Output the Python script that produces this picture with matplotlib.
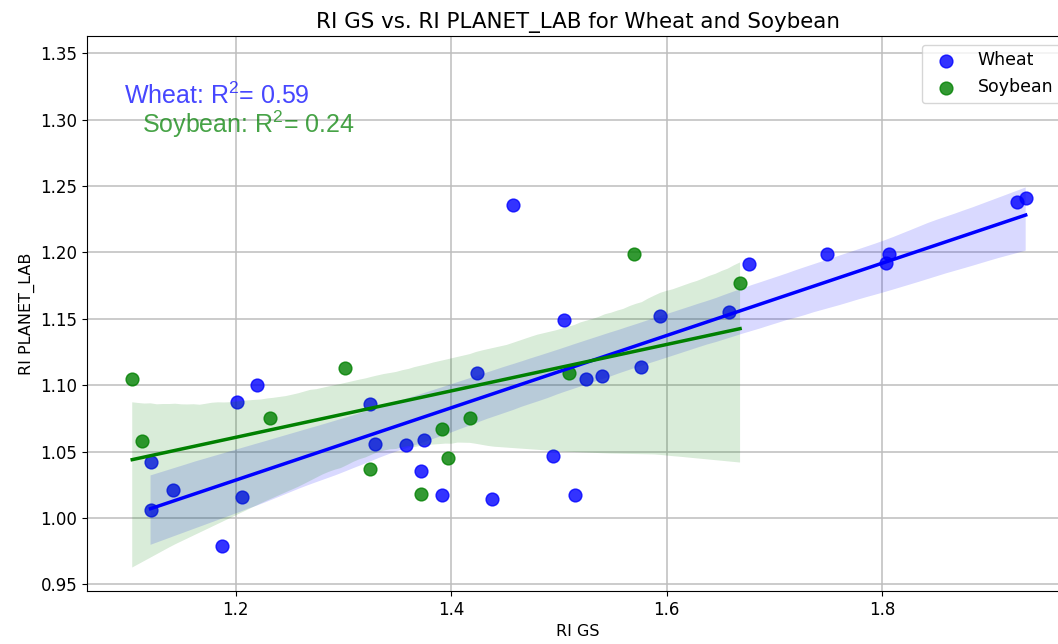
import numpy as np
import pandas as pd
import matplotlib
matplotlib.use("Agg")
import matplotlib.pyplot as plt
import seaborn as sns

# 读取数据
wheat_x = [1.121, 1.121, 1.142, 1.187, 1.201, 1.206, 1.220, 1.325, 1.329, 1.358,
           1.375, 1.372, 1.391, 1.424, 1.438, 1.457, 1.494, 1.505, 1.515, 1.525,
           1.540, 1.576, 1.594, 1.658, 1.676, 1.749, 1.803, 1.806, 1.925, 1.933]
wheat_y = [1.006, 1.042, 1.021, 0.979, 1.087, 1.016, 1.100, 1.086, 1.056, 1.055,
           1.059, 1.035, 1.017, 1.109, 1.014, 1.236, 1.047, 1.149, 1.017, 1.105,
           1.107, 1.114, 1.152, 1.155, 1.191, 1.199, 1.192, 1.199, 1.238, 1.241]

soy_x = [1.104, 1.113, 1.232, 1.301, 1.325, 1.372, 1.391, 1.397, 1.417, 1.509, 1.570, 1.668]
soy_y = [1.105, 1.058, 1.075, 1.113, 1.037, 1.018, 1.067, 1.045, 1.075, 1.109, 1.199, 1.177]

r2_wheat = 0.59
r2_soy = 0.24

df_w = pd.DataFrame({"gs": wheat_x, "pl": wheat_y})
df_s = pd.DataFrame({"gs": soy_x, "pl": soy_y})

plt.rcParams["mathtext.fontset"] = "custom"
plt.rcParams["mathtext.rm"] = "Liberation Sans"
plt.rcParams["mathtext.default"] = "regular"

fig = plt.figure(figsize=(10.58, 6.44), dpi=100)
ax = fig.add_axes([0.0822, 0.0823, 0.928, 0.862])

sns.regplot(x="gs", y="pl", data=df_w, ax=ax, color="blue", seed=1,
            scatter_kws={"s": 85, "alpha": 0.8}, line_kws={"lw": 2.5}, label="Wheat")
sns.regplot(x="gs", y="pl", data=df_s, ax=ax, color="green", seed=1,
            scatter_kws={"s": 85, "alpha": 0.8}, line_kws={"lw": 2.5}, label="Soybean")

# R2 标注
ax.text(1.096, 1.3116, "Wheat: R$^2$= %.2f" % r2_wheat, color="blue", alpha=0.72,
        fontsize=18, family="Liberation Sans")
ax.text(1.1134, 1.2898, "Soybean: R$^2$= %.2f" % r2_soy, color="green", alpha=0.72,
        fontsize=18, family="Liberation Sans")

ax.set_xlim(1.062, 1.973)
ax.set_ylim(0.945, 1.363)
ax.set_xticks([1.2, 1.4, 1.6, 1.8])
ax.set_yticks([0.95, 1.00, 1.05, 1.10, 1.15, 1.20, 1.25, 1.30, 1.35])
ax.tick_params(labelsize=12)
ax.grid(True, color="#bdbdbd", lw=1.1)
ax.set_axisbelow(True)

ax.set_title("RI GS vs. RI PLANET_LAB for Wheat and Soybean", fontsize=15.4)
ax.set_xlabel("RI GS", fontsize=11.5)
ax.set_ylabel("RI PLANET_LAB", fontsize=11.5)
ax.legend(loc="upper right", fontsize=12.5)

fig.savefig("out.png", dpi=100)
